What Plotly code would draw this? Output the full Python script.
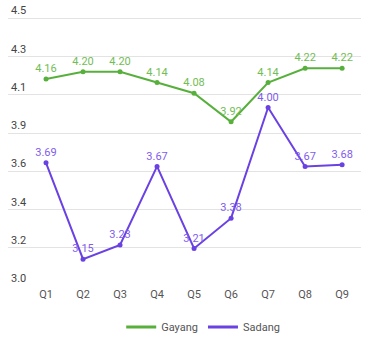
import plotly.graph_objects as go

categories = ["Q1", "Q2", "Q3", "Q4", "Q5", "Q6", "Q7", "Q8", "Q9"]
gayang = [4.16, 4.20, 4.20, 4.14, 4.08, 3.92, 4.14, 4.22, 4.22]
sadang = [3.69, 3.15, 3.23, 3.67, 3.21, 3.38, 4.00, 3.67, 3.68]
y_min, y_max, n_ticks = 3.0, 4.5, 8
tick_vals = [y_min + (y_max - y_min) * i / (n_ticks - 1) for i in range(n_ticks)]
tick_text = [f"{v:.1f}" for v in tick_vals]

GREEN, GREEN_LBL = "#58B03C", "#72BD55"
PURPLE, PURPLE_LBL = "#6A41E3", "#7F5CEE"
FONT = "Roboto"

fig = go.Figure()
for name, vals, col, lcol in [("Gayang", gayang, GREEN, GREEN_LBL), ("Sadang", sadang, PURPLE, PURPLE_LBL)]:
    fig.add_trace(go.Scatter(
        x=list(range(len(categories))), y=vals, mode="lines+markers+text",
        text=[f"{v:.2f}" for v in vals], textposition="top center",
        textfont=dict(family=FONT, size=11, color=lcol),
        line=dict(color=col, width=2), marker=dict(color=col, size=5),
        showlegend=False, cliponaxis=False,
    ))
    fig.add_trace(go.Scatter(x=[None], y=[None], mode="lines", name=name,
                             line=dict(color=col, width=3)))

fig.update_layout(
    width=367, height=340,
    margin=dict(l=8, r=6, t=4, b=54, autoexpand=False),
    paper_bgcolor="white", plot_bgcolor="white",
    font=dict(family=FONT, size=11, color="#444"),
    legend=dict(orientation="h", x=0.553, xanchor="center", y=-0.145, yanchor="middle",
                font=dict(family=FONT, size=11, color="#555"), itemwidth=30,
                tracegroupgap=0, itemclick=False),
    xaxis=dict(range=[-1.027, 8.51], tickmode="array", automargin=False,
               tickvals=list(range(len(categories))), ticktext=categories,
               showgrid=False, zeroline=False, showline=False, ticks="",
               tickfont=dict(family=FONT, size=11, color="#555")),
    yaxis=dict(range=[y_min, 4.58], tickmode="array", tickvals=tick_vals, ticktext=tick_text,
               ticklabelposition="inside top", showgrid=True, gridcolor="#E3E3E3", gridwidth=1,
               zeroline=False, showline=False, ticks="", automargin=False,
               tickfont=dict(family=FONT, size=11, color="#444")),
)
fig.write_html("out.html", config={"displayModeBar": False},
               post_script="document.body.style.margin='0';")
